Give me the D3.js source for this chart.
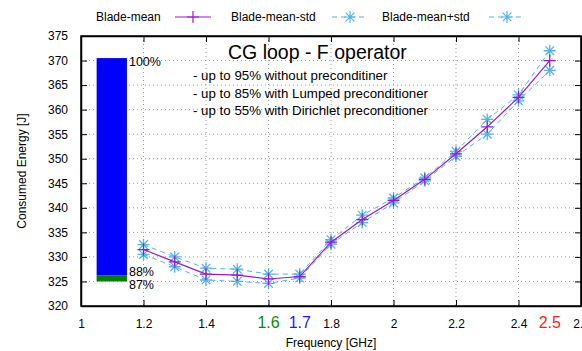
<!DOCTYPE html>
<html>
<head>
<meta charset="utf-8">
<script src="https://cdn.jsdelivr.net/npm/d3@7"></script>
<style>
  body { margin: 0; background: #fff; }
  svg { font-family: "Liberation Sans", Arial, sans-serif; }
</style>
</head>
<body>
<div id="chart"></div>
<script>
// frequencies (GHz) and measured energy (J)
const freqs = [1.2, 1.3, 1.4, 1.5, 1.6, 1.7, 1.8, 1.9, 2.0, 2.1, 2.2, 2.3, 2.4, 2.5];
const meanVals = [331.5, 329.0, 326.5, 326.3, 325.5, 326.0, 333.0, 337.6, 341.5, 345.8, 351.0, 356.5, 362.5, 370.0];
const minusStd = [330.5, 328.0, 325.3, 325.0, 324.6, 325.7, 332.6, 337.0, 341.0, 345.5, 350.5, 355.0, 361.8, 368.0];
const plusStd = [332.5, 330.0, 327.7, 327.5, 326.5, 326.5, 333.5, 338.5, 342.0, 346.1, 351.5, 358.0, 363.0, 372.0];

const xTicks = [1, 1.2, 1.4, 1.6, 1.8, 2, 2.2, 2.4, 2.6];
const yTicks = [320, 325, 330, 335, 340, 345, 350, 355, 360, 365, 370, 375];
const markedFreqs = [1.6, 1.7, 2.5];
const markedColors = ['#0a8a0a', '#1a1aff', '#ff1a1a'];

// stacked bar: bounds along x and levels along y
const barX = [1.05, 1.147];
const barLevels = [325, 326.2, 370.5];
const barColors = ['#008000', '#0000ff'];
const barLabels = ['87%', '88%', '100%'];

const notes = [
  '- up to 95% without preconditiner',
  '- up to 85% with Lumped preconditioner',
  '- up to 55% with Dirichlet preconditioner'
];

const width = 582, height = 351;
const margin = { top: 36, right: 1, bottom: 45, left: 81 };
const w = width - margin.left - margin.right;
const h = height - margin.top - margin.bottom;

const meanColor = '#9b17d8';
const stdColor = '#55b4ea';

const svg = d3.select('#chart').append('svg')
  .attr('width', width)
  .attr('height', height);

const g = svg.append('g')
  .attr('transform', `translate(${margin.left},${margin.top})`);

const x = d3.scaleLinear().domain([1, 2.6]).range([0, w]);
const y = d3.scaleLinear().domain([320, 375]).range([h, 0]);

// grid
g.append('g')
  .selectAll('line')
  .data(xTicks.slice(1, -1))
  .enter().append('line')
  .attr('x1', d => x(d)).attr('x2', d => x(d))
  .attr('y1', 0).attr('y2', h)
  .attr('stroke', '#999').attr('stroke-dasharray', '1,3');

g.append('g')
  .selectAll('line')
  .data(yTicks.slice(1, -1))
  .enter().append('line')
  .attr('x1', 0).attr('x2', w)
  .attr('y1', d => y(d)).attr('y2', d => y(d))
  .attr('stroke', '#999').attr('stroke-dasharray', '1,3');

// axes
const xAxis = g.append('g')
  .attr('transform', `translate(0,${h})`)
  .call(d3.axisBottom(x).tickValues(xTicks).tickSizeInner(-6).tickSizeOuter(0)
    .tickFormat(d => markedFreqs.includes(d) ? '' : d3.format('')(d)));
xAxis.selectAll('text').attr('dy', '1.6em').style('font-size', '12px').attr('fill', '#000');

g.append('g')
  .call(d3.axisTop(x).tickValues(xTicks).tickSizeInner(-6).tickSizeOuter(0).tickFormat(''));

const yAxis = g.append('g')
  .call(d3.axisLeft(y).tickValues(yTicks).tickSizeInner(-6).tickSizeOuter(0));
yAxis.selectAll('text').attr('x', -13).style('font-size', '12px').attr('fill', '#000');

g.append('g')
  .attr('transform', `translate(${w},0)`)
  .call(d3.axisRight(y).tickValues(yTicks).tickSizeInner(-6).tickSizeOuter(0).tickFormat(''));

g.selectAll('.domain').attr('stroke', '#000').attr('stroke-width', 1.5);
g.selectAll('.tick line').attr('stroke', '#000');

// border
g.append('rect')
  .attr('x', 0).attr('y', 0).attr('width', w).attr('height', h)
  .attr('fill', 'none').attr('stroke', '#000').attr('stroke-width', 1.5);

// coloured frequency labels
g.selectAll('.marked')
  .data(markedFreqs)
  .enter().append('text')
  .attr('x', d => x(d))
  .attr('y', h + 22)
  .attr('text-anchor', 'middle')
  .style('font-size', '16px')
  .attr('fill', (d, i) => markedColors[i])
  .text(d => d);

// stacked bar
g.selectAll('.bar')
  .data(barColors)
  .enter().append('rect')
  .attr('x', x(barX[0]))
  .attr('width', x(barX[1]) - x(barX[0]))
  .attr('y', (d, i) => y(barLevels[i + 1]))
  .attr('height', (d, i) => y(barLevels[i]) - y(barLevels[i + 1]))
  .attr('fill', d => d);

const labelOffsets = [8, 0, 8];
g.selectAll('.barlabel')
  .data(barLevels)
  .enter().append('text')
  .attr('x', x(barX[1]) + 2)
  .attr('y', (d, i) => y(d) + labelOffsets[i])
  .style('font-size', '12.5px')
  .attr('fill', '#000')
  .text((d, i) => barLabels[i]);

// series
const line = d3.line().x(d => x(d[0])).y(d => y(d[1]));

function starPath(cx, cy, r) {
  const a = r * 0.72;
  return `M${cx - r},${cy}H${cx + r}M${cx},${cy - r}V${cy + r}` +
    `M${cx - a},${cy - a}L${cx + a},${cy + a}M${cx - a},${cy + a}L${cx + a},${cy - a}`;
}

[minusStd, plusStd].forEach(vals => {
  const pts = freqs.map((f, i) => [f, vals[i]]);
  g.append('path')
    .attr('d', line(pts))
    .attr('fill', 'none')
    .attr('stroke', stdColor)
    .attr('stroke-width', 1)
    .attr('stroke-dasharray', '5,4');
  g.append('g').selectAll('path')
    .data(pts)
    .enter().append('path')
    .attr('d', d => starPath(x(d[0]), y(d[1]), 6))
    .attr('stroke', stdColor)
    .attr('stroke-width', 1.3);
});

const meanPts = freqs.map((f, i) => [f, meanVals[i]]);
g.append('path')
  .attr('d', line(meanPts))
  .attr('fill', 'none')
  .attr('stroke', meanColor)
  .attr('stroke-width', 1.2);
g.append('g').selectAll('path')
  .data(meanPts)
  .enter().append('path')
  .attr('d', d => `M${x(d[0]) - 6},${y(d[1])}H${x(d[0]) + 6}M${x(d[0])},${y(d[1]) - 6}V${y(d[1]) + 6}`)
  .attr('stroke', meanColor)
  .attr('stroke-width', 1.2);

// title and notes
g.append('text')
  .attr('x', 228 - margin.left)
  .attr('y', 59 - margin.top)
  .style('font-size', '19.5px')
  .attr('fill', '#000')
  .text('CG loop - F operator');

g.selectAll('.note')
  .data(notes)
  .enter().append('text')
  .attr('x', 193 - margin.left)
  .attr('y', (d, i) => 80 - margin.top + i * 17.5)
  .style('font-size', '13.3px')
  .attr('fill', '#000')
  .text(d => d);

// axis titles
svg.append('text')
  .attr('transform', `translate(26,${margin.top + h / 2}) rotate(-90)`)
  .attr('text-anchor', 'middle')
  .style('font-size', '12px')
  .text('Consumed Energy [J]');

svg.append('text')
  .attr('x', margin.left + w / 2)
  .attr('y', 347)
  .attr('text-anchor', 'middle')
  .style('font-size', '12px')
  .text('Frequency [GHz]');

// legend
const legendItems = [
  { name: 'Blade-mean', tx: 96, sx: 175, color: meanColor, dash: null, star: false },
  { name: 'Blade-mean-std', tx: 231, sx: 332, color: stdColor, dash: '5,4', star: true },
  { name: 'Blade-mean+std', tx: 382, sx: 489, color: stdColor, dash: '5,4', star: true }
];
const ly = 17;
legendItems.forEach(it => {
  svg.append('text')
    .attr('x', it.tx).attr('y', ly + 4)
    .style('font-size', '12px')
    .text(it.name);
  svg.append('line')
    .attr('x1', it.sx).attr('x2', it.sx + 36)
    .attr('y1', ly).attr('y2', ly)
    .attr('stroke', it.color)
    .attr('stroke-width', 1.2)
    .attr('stroke-dasharray', it.dash);
  const cx = it.sx + 18;
  svg.append('path')
    .attr('d', it.star ? starPath(cx, ly, 6) : `M${cx - 6},${ly}H${cx + 6}M${cx},${ly - 6}V${ly + 6}`)
    .attr('stroke', it.color)
    .attr('stroke-width', 1.2);
});
</script>
</body>
</html>
